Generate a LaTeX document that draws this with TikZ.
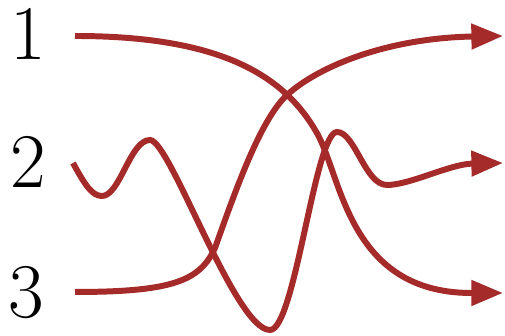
\documentclass[tikz,border=0pt]{standalone}
\usepackage{tikz}
\usetikzlibrary{arrows.meta}
\definecolor{wirered}{RGB}{165,42,42}

\begin{document}
\begin{tikzpicture}[every node/.style={font=\fontsize{22}{26}\selectfont, inner sep=0pt},
    wire/.style={draw=wirered, line width=1.7pt, -{Triangle[length=9pt,width=7pt]}}]
    \useasboundingbox (0,0) rectangle (5.05,-3.36);
    % labels on the left
    \node (n1) at (0.28,-0.34) {1};
    \node (n2) at (0.28,-1.62) {2};
    \node (n3) at (0.26,-2.93) {3};
    % free ends of the wires
    \coordinate (s1) at (0.75,-0.36);
    \coordinate (s2) at (0.73,-1.63);
    \coordinate (s3) at (0.75,-2.92);
    \coordinate (t1) at (5.03,-0.36);
    \coordinate (t2) at (5.03,-1.63);
    \coordinate (t3) at (5.03,-2.93);
    \draw[wire] (s1) .. controls (2.2,-0.36) and (2.85,-0.75) .. (3.18,-1.35)
        .. controls (3.42,-1.8) and (3.5,-2.92) .. (4.7,-2.93) -- (t3);
    \draw[wire] (s2) .. controls (0.85,-1.85) and (0.92,-1.96) .. (1.02,-1.96)
        .. controls (1.2,-1.96) and (1.3,-1.40) .. (1.50,-1.40)
        .. controls (1.70,-1.40) and (2.35,-3.30) .. (2.70,-3.30)
        .. controls (2.95,-3.30) and (3.15,-1.32) .. (3.37,-1.32)
        .. controls (3.55,-1.32) and (3.65,-1.85) .. (3.87,-1.85)
        .. controls (4.1,-1.85) and (4.5,-1.64) .. (t2);
    \draw[wire] (s3) .. controls (1.75,-2.92) and (2.0,-2.8) .. (2.15,-2.48)
        .. controls (2.35,-1.92) and (2.6,-1.2) .. (2.87,-0.95)
        .. controls (3.2,-0.65) and (3.9,-0.38) .. (t1);
\end{tikzpicture}
\end{document}
